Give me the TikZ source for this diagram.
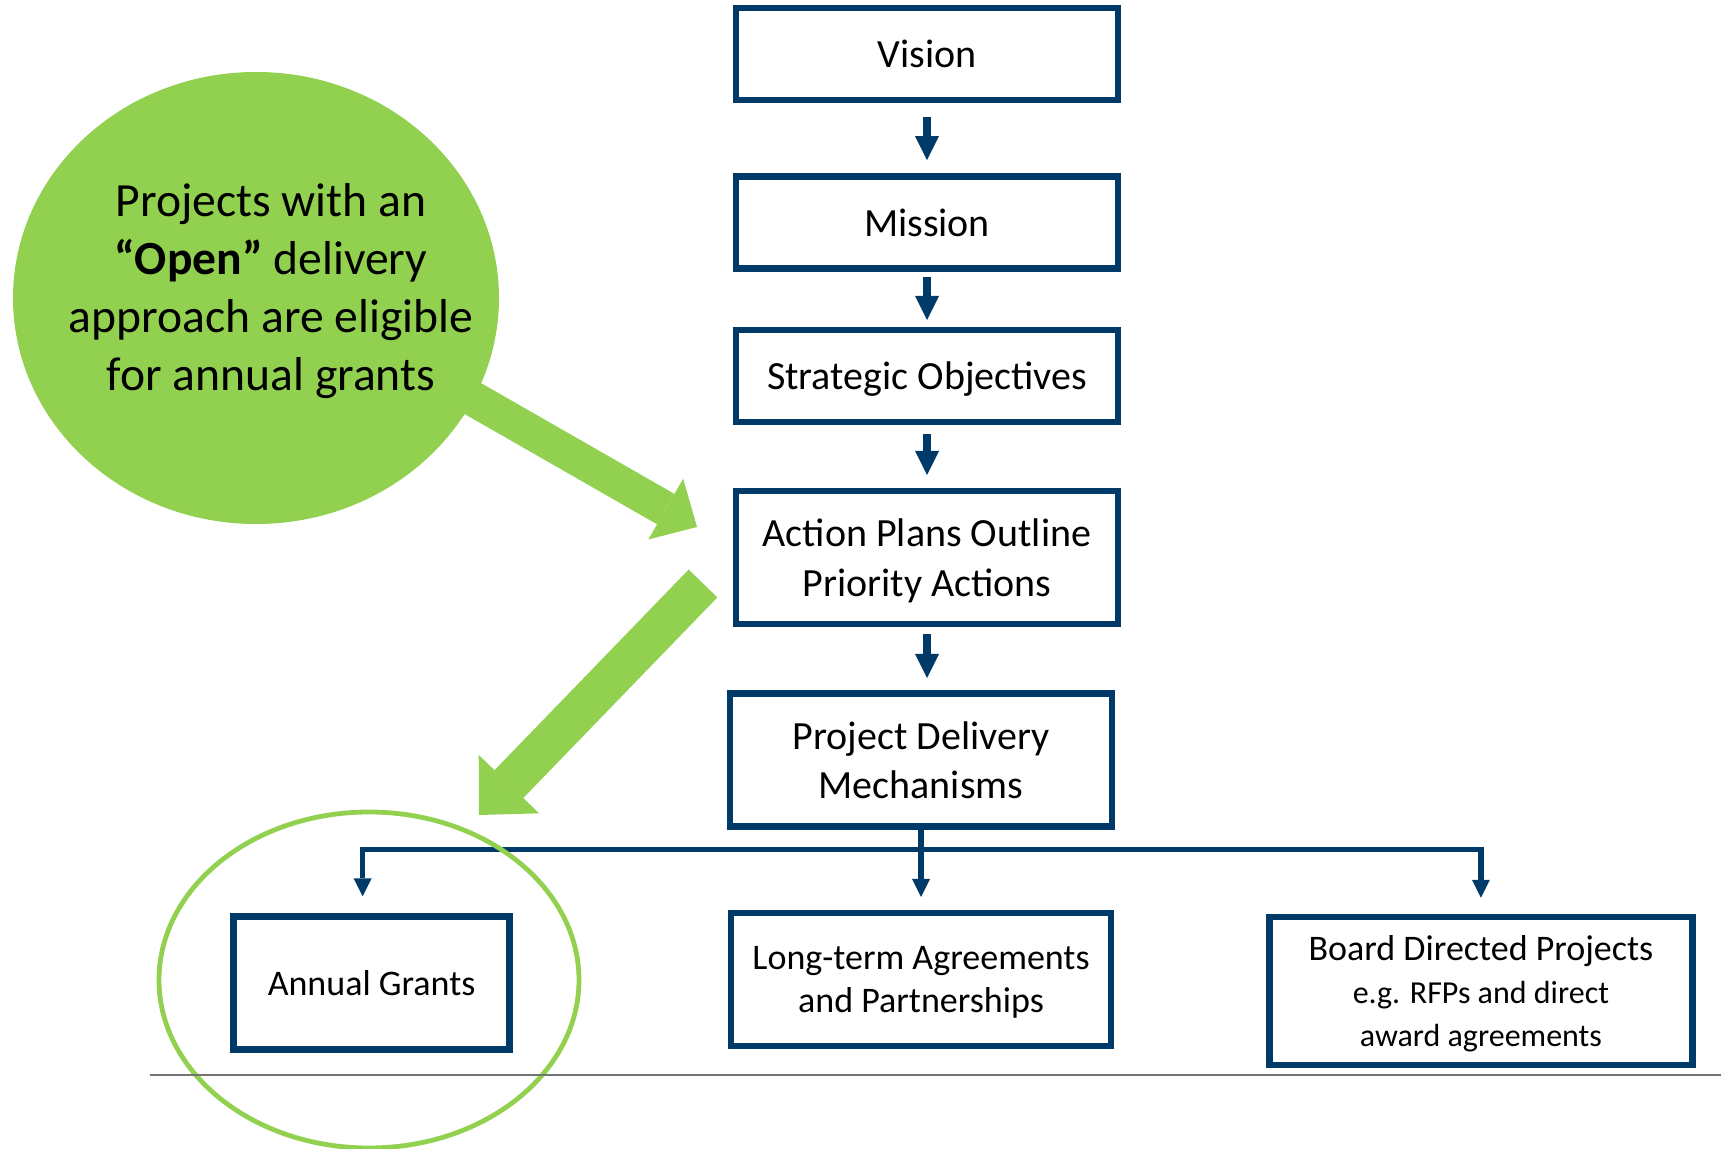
\documentclass[tikz,border=0pt]{standalone}
\usepackage{fontspec}
\setmainfont{Carlito}
\usepackage{tikz}
\usetikzlibrary{shapes,arrows.meta,positioning,calc}
\definecolor{navy}{RGB}{0, 58, 105}
\definecolor{leaf}{RGB}{146, 208, 80}
\newcommand{\examplefont}{\fontsize{16}{20}\selectfont}
\tikzstyle{stage} = [rectangle, draw=navy, line width=3.2pt, fill=white, text=black, align=center, text depth=0pt, minimum width=191pt, minimum height=46pt, font=\fontsize{20}{24.7}\selectfont]
\tikzstyle{outcome} = [rectangle, draw=navy, line width=3.2pt, fill=white, text=black, align=center, text depth=0pt, minimum height=66.5pt, font=\fontsize{18}{21.5}\selectfont]
\tikzstyle{flow} = [draw=navy, line width=4pt, -{Triangle[length=12pt,width=12pt,line width=0pt]}]
\tikzstyle{branch} = [draw=navy, line width=2.6pt, -{Triangle[length=9pt,width=9pt,line width=0pt]}]
\tikzstyle{pointer} = [draw=leaf, line width=17.5pt, -{Triangle[length=18pt,width=35pt,line width=0pt]}]

\begin{document}
\begin{tikzpicture}[x=0.5pt, y=-0.5pt]
\useasboundingbox (0,0) rectangle (1721,1149);

% callout =============================

\node[ellipse, fill=leaf, minimum width=243pt, minimum height=226pt, inner sep=0pt] (bubble) at (256,298) {};

% flow chart
\node[stage] (vision) at (927,54) {Vision};
\node[stage, below=35pt of vision] (mission) {Mission};
\node[stage, below=27.5pt of mission] (strategic) {Strategic Objectives};
\node[stage, minimum height=66.5pt, below=31.5pt of strategic] (action) {Action Plans Outline\\ Priority Actions};
\node[stage, minimum height=66.5pt, below=31.5pt of action, xshift=-3pt] (delivery) {Project Delivery\\ Mechanisms};

% delivery mechanisms
\node[outcome, minimum width=190pt, below=40pt of delivery] (longterm) {Long-term Agreements\\ and Partnerships};
\node[outcome, minimum width=138pt, left=107.5pt of longterm, yshift=-1.75pt] (annual) {Annual Grants};
\node[outcome, minimum width=211.5pt, minimum height=74pt, right=76pt of longterm, yshift=-5.75pt] (board) {Board Directed Projects\\ \examplefont e.g. RFPs and direct\\ \examplefont award agreements};

% green pointers
\coordinate (from) at (402,358);
\coordinate (aim) at (697,527);
\coordinate (turn) at (703,583.5);
\coordinate (grant) at (479,815);

%edges
\path[flow, shorten <=7pt, shorten >=6.5pt] (vision) -- (mission);
\path[flow, shorten <=2.7pt, shorten >=3.3pt] (mission) -- (strategic);
\path[flow, shorten <=4.5pt, shorten >=6.5pt] (strategic) -- (action);
\path[flow, shorten <=3.3pt, shorten >=6.2pt] (action.south) -- (action.south |- delivery.north);

\path[branch, shorten >=6.4pt] (delivery) -- (longterm);
\path[branch, shorten >=8.5pt] (delivery.south) -- ++(0,-10pt) -| ([xshift=-4.5pt]annual.north);
\path[branch, shorten >=8pt] (delivery.south) -- ++(0,-10pt) -| (board.north);

\path[pointer] (from) -- (aim);
\path[pointer, line width=20pt, -{Triangle[length=21.5pt,width=42pt,line width=0pt]}] (turn) -- (grant);

\node[align=center, text=black, font=\fontsize{23.8}{28.9}\selectfont] (note) at (271,291) {Projects with an\\ \textbf{“Open”} delivery\\ approach are eligible\\ for annual grants};

\node[ellipse, draw=leaf, line width=2.4pt, minimum width=210pt, minimum height=168pt] (ring) at (369,980) {};
\draw[black!55, line width=1pt] (150,1075) -- (1721,1075);

\end{tikzpicture}
\end{document}
